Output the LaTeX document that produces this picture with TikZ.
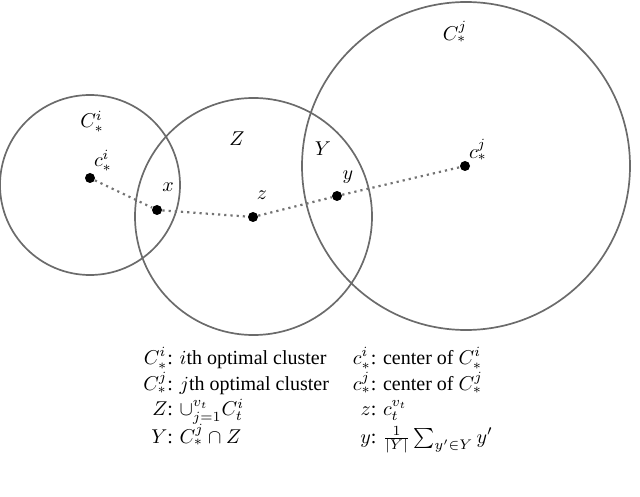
\documentclass[tikz,border=0pt]{standalone}
\usepackage{fontspec}
\setmainfont{Liberation Serif}
\begin{document}
\begin{tikzpicture}[x=0.5pt,y=-0.5pt,
  clus/.style={circle, draw=black!58, line width=0.85pt, inner sep=0pt},
  dot/.style={circle, fill=black, inner sep=0pt, minimum size=5pt},
  lbl/.style={inner sep=0pt, font=\fontsize{10}{12}\selectfont},
  path/.style={draw=black!55, line width=1.1pt, dotted}]
\useasboundingbox (0,0) rectangle (640,496);
% clusters
\node[clus, minimum size=90pt] (Ci) at (90,185) {};
\node[clus, minimum size=118.5pt] (Zc) at (253.5,216.5) {};
\node[clus, minimum size=164pt] (Cj) at (466,166) {};
% points
\node[dot] (ci) at (90,178) {};
\node[dot] (xp) at (157,210) {};
\node[dot] (zp) at (253,217) {};
\node[dot] (yp) at (337,196) {};
\node[dot] (cj) at (465,166) {};
\draw[path] (ci) -- (xp) -- (zp) -- (yp) -- (cj);
% labels
\node[lbl] (lCi) at (92,122) {$C^i_*$};
\node[lbl] (lci) at (103,161) {$c^i_*$};
\node[lbl] (lZ) at (237,139) {$Z$};
\node[lbl] (lx) at (168,187) {$x$};
\node[lbl] (lz) at (262,195) {$z$};
\node[lbl] (lY) at (323,149) {$Y$};
\node[lbl] (ly) at (348,177) {$y$};
\node[lbl] (lcj) at (478,150) {$c^j_*$};
\node[lbl] (lCj) at (455,32) {$C^j_*$};
% legend
\node[lbl] (legend) at (318,400) {%
\renewcommand{\arraystretch}{1.05}%
\begin{tabular}{@{}r@{: }l@{\hspace{12pt}}r@{: }l@{}}
$C^i_*$ & $i$th optimal cluster & $c^i_*$ & center of $C^i_*$\\
$C^j_*$ & $j$th optimal cluster & $c^j_*$ & center of $C^j_*$\\
$Z$ & $\cup_{j=1}^{v_t} C^i_t$ & $z$ & $c^{v_t}_t$\\
$Y$ & $C^j_*\cap Z$ & $y$ & $\frac{1}{|Y|}\sum_{y'\in Y} y'$
\end{tabular}};
\end{tikzpicture}
\end{document}
